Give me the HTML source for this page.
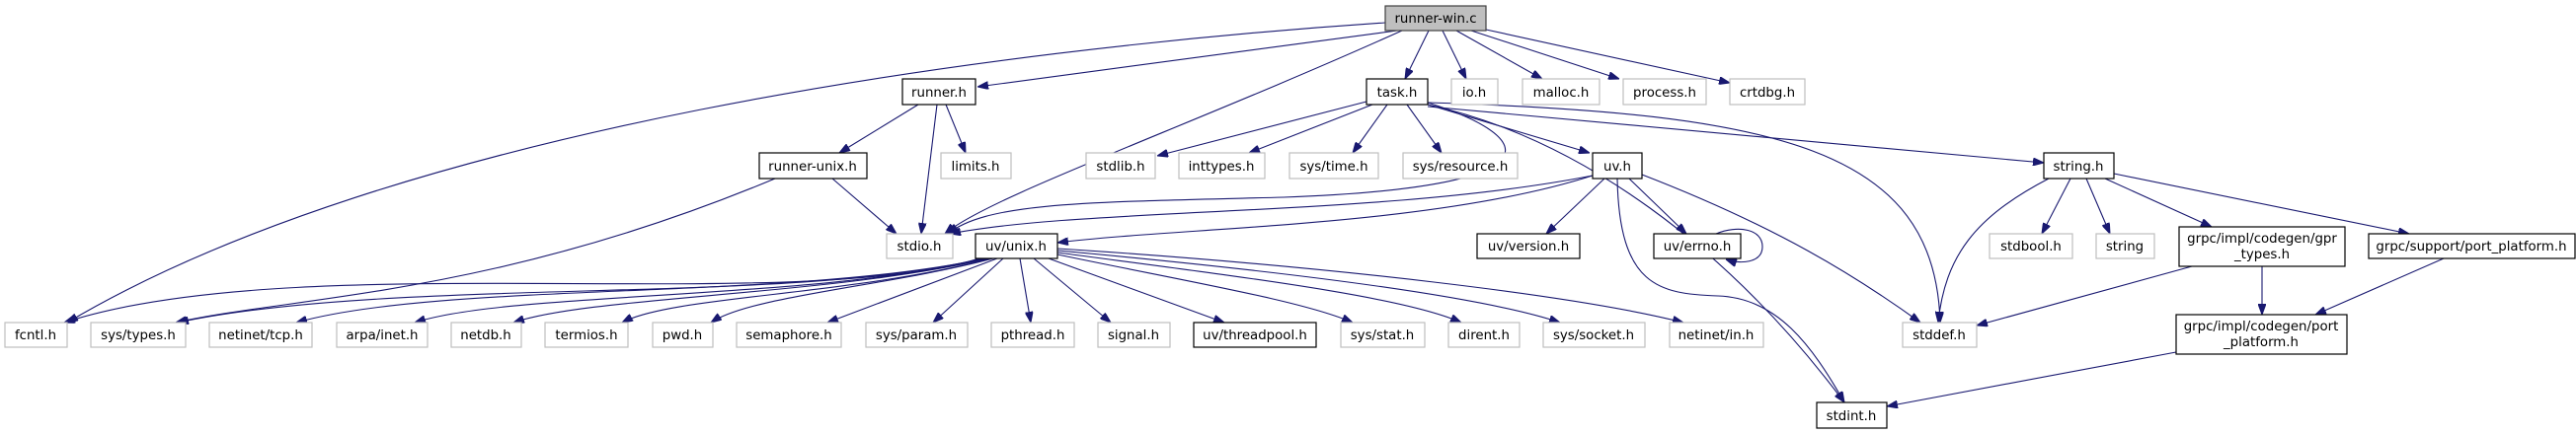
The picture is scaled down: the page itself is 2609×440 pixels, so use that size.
<!DOCTYPE html>
<html><head><meta charset="utf-8"><style>
html,body{margin:0;padding:0;background:#fff;width:2609px;height:440px;overflow:hidden}
svg{display:block}
text{font-family:"DejaVu Sans","Liberation Sans",sans-serif;font-size:13.33px;fill:#000}
.e{fill:none;stroke:#191970;stroke-width:1.1}
.b{fill:#fff;stroke:#000;stroke-width:1.2}
.g{fill:#fff;stroke:#bfbfbf;stroke-width:1.2}
</style></head><body>
<svg width="2609" height="440" viewBox="0 0 2609 440" xmlns="http://www.w3.org/2000/svg">
<defs><marker id="a" markerWidth="11" markerHeight="8" refX="11" refY="4" orient="auto" markerUnits="userSpaceOnUse"><path d="M0,0 L11,4 L0,8 z" fill="#191970" stroke="#191970"/></marker></defs>
<g class="e" marker-end="url(#a)">
<path d="M1403,23 C1000,50 400,130 68,327"/>
<path d="M1415,31 L990,88"/>
<path d="M1420,31 C1200,130 1000,200 957,237"/>
<path d="M1447,31 L1423,80"/>
<path d="M1461,31 L1485,80"/>
<path d="M1475,31 L1562,80"/>
<path d="M1490,31 L1640,80"/>
<path d="M1505,30 L1752,84"/>
<path d="M930,106 L850,155"/>
<path d="M949,106 L933,237"/>
<path d="M958,106 L978,155"/>
<path d="M785,181 C500,300 300,300 178,327"/>
<path d="M843,181 L908,237"/>
<path d="M1384,103 L1172,158"/>
<path d="M1390,106 L1265,155"/>
<path d="M1405,106 L1370,155"/>
<path d="M1425,106 L1460,155"/>
<path d="M1446,106 L1610,155"/>
<path d="M1446,104 C1560,140 1580,190 1300,200 C1100,205 1000,205 960,237"/>
<path d="M1446,106 C1600,140 1750,250 1868,408"/>
<path d="M1446,104 C1800,115 1960,150 1965,327"/>
<path d="M1446,108 L2070,165"/>
<path d="M1613,178 C1400,220 1100,210 962,237"/>
<path d="M1613,178 C1450,230 1200,230 1071,246"/>
<path d="M1625,181 L1566,237"/>
<path d="M1650,181 L1708,237"/>
<path d="M1638,181 C1640,290 1680,298 1740,300 C1800,302 1835,350 1868,408"/>
<path d="M1663,177 C1800,230 1880,280 1945,327"/>
<path d="M1738,237 C1760,228 1785,232 1785,250 C1785,267 1762,268 1748,263"/>
<path d="M992,262 C800,320 300,250 65,327"/>
<path d="M995,262 C800,310 400,280 180,327"/>
<path d="M998,262 C800,305 450,285 300,327"/>
<path d="M1000,262 C820,305 520,295 420,327"/>
<path d="M1002,262 C840,300 600,300 520,327"/>
<path d="M1004,262 C860,300 680,300 630,327"/>
<path d="M1006,262 C900,290 760,300 720,327"/>
<path d="M1010,262 L838,327"/>
<path d="M1016,262 L945,327"/>
<path d="M1033,262 L1044,327"/>
<path d="M1047,262 L1125,327"/>
<path d="M1062,262 L1240,327"/>
<path d="M1071,258 C1200,285 1320,305 1370,327"/>
<path d="M1071,256 C1250,280 1420,300 1480,327"/>
<path d="M1071,254 C1300,275 1500,300 1580,327"/>
<path d="M1071,252 C1350,270 1600,300 1705,327"/>
<path d="M2075,181 C2000,220 1970,260 1963,327"/>
<path d="M2097,181 L2068,237"/>
<path d="M2113,181 L2137,237"/>
<path d="M2132,181 L2240,230"/>
<path d="M2141,176 L2440,237"/>
<path d="M2220,270 L2002,330"/>
<path d="M2291,270 L2291,319"/>
<path d="M2475,262 L2345,319"/>
<path d="M2204,357 L1911,412"/>
</g>
<g text-anchor="middle">
<rect x="1403" y="6" width="102" height="25" fill="#bfbfbf" stroke="#404040" stroke-width="1.2"/><text x="1454" y="23">runner-win.c</text>
<rect class="b" x="914" y="80" width="74" height="26"/><text x="951" y="98">runner.h</text>
<rect class="b" x="1384" y="80" width="62" height="26"/><text x="1415" y="98">task.h</text>
<rect class="g" x="1470" y="80" width="47" height="26"/><text x="1493" y="98">io.h</text>
<rect class="g" x="1542" y="80" width="78" height="26"/><text x="1581" y="98">malloc.h</text>
<rect class="g" x="1644" y="80" width="84" height="26"/><text x="1686" y="98">process.h</text>
<rect class="g" x="1752" y="80" width="76" height="26"/><text x="1790" y="98">crtdbg.h</text>
<rect class="b" x="769" y="155" width="109" height="26"/><text x="823" y="173">runner-unix.h</text>
<rect class="g" x="953" y="155" width="71" height="26"/><text x="988" y="173">limits.h</text>
<rect class="g" x="1100" y="155" width="70" height="26"/><text x="1135" y="173">stdlib.h</text>
<rect class="g" x="1194" y="155" width="87" height="26"/><text x="1237" y="173">inttypes.h</text>
<rect class="g" x="1306" y="155" width="90" height="26"/><text x="1351" y="173">sys/time.h</text>
<rect class="g" x="1421" y="155" width="116" height="26"/><text x="1479" y="173">sys/resource.h</text>
<rect class="b" x="1613" y="155" width="50" height="26"/><text x="1638" y="173">uv.h</text>
<rect class="b" x="2070" y="155" width="71" height="26"/><text x="2105" y="173">string.h</text>
<rect class="g" x="898" y="237" width="67" height="25"/><text x="931" y="254">stdio.h</text>
<rect class="b" x="988" y="237" width="83" height="25"/><text x="1029" y="254">uv/unix.h</text>
<rect class="b" x="1496" y="237" width="104" height="25"/><text x="1548" y="254">uv/version.h</text>
<rect class="b" x="1675" y="237" width="88" height="25"/><text x="1719" y="254">uv/errno.h</text>
<rect class="g" x="2015" y="237" width="84" height="25"/><text x="2057" y="254">stdbool.h</text>
<rect class="g" x="2123" y="237" width="59" height="25"/><text x="2152" y="254">string</text>
<rect class="b" x="2207" y="230" width="168" height="40"/><text x="2291" y="246">grpc/impl/codegen/gpr</text><text x="2291" y="262">_types.h</text>
<rect class="b" x="2399" y="237" width="209" height="25"/><text x="2503" y="254">grpc/support/port_platform.h</text>
<rect class="g" x="5" y="327" width="63" height="25"/><text x="36" y="344">fcntl.h</text>
<rect class="g" x="92" y="327" width="96" height="25"/><text x="140" y="344">sys/types.h</text>
<rect class="g" x="212" y="327" width="104" height="25"/><text x="264" y="344">netinet/tcp.h</text>
<rect class="g" x="341" y="327" width="92" height="25"/><text x="387" y="344">arpa/inet.h</text>
<rect class="g" x="457" y="327" width="71" height="25"/><text x="492" y="344">netdb.h</text>
<rect class="g" x="552" y="327" width="84" height="25"/><text x="594" y="344">termios.h</text>
<rect class="g" x="661" y="327" width="61" height="25"/><text x="691" y="344">pwd.h</text>
<rect class="g" x="746" y="327" width="106" height="25"/><text x="799" y="344">semaphore.h</text>
<rect class="g" x="877" y="327" width="103" height="25"/><text x="928" y="344">sys/param.h</text>
<rect class="g" x="1004" y="327" width="84" height="25"/><text x="1046" y="344">pthread.h</text>
<rect class="g" x="1112" y="327" width="73" height="25"/><text x="1148" y="344">signal.h</text>
<rect class="b" x="1209" y="327" width="124" height="25"/><text x="1271" y="344">uv/threadpool.h</text>
<rect class="g" x="1358" y="327" width="85" height="25"/><text x="1400" y="344">sys/stat.h</text>
<rect class="g" x="1467" y="327" width="72" height="25"/><text x="1503" y="344">dirent.h</text>
<rect class="g" x="1563" y="327" width="103" height="25"/><text x="1614" y="344">sys/socket.h</text>
<rect class="g" x="1691" y="327" width="95" height="25"/><text x="1738" y="344">netinet/in.h</text>
<rect class="g" x="1927" y="327" width="75" height="25"/><text x="1964" y="344">stddef.h</text>
<rect class="b" x="2204" y="319" width="173" height="40"/><text x="2290" y="335">grpc/impl/codegen/port</text><text x="2290" y="351">_platform.h</text>
<rect class="b" x="1840" y="408" width="71" height="26"/><text x="1875" y="426">stdint.h</text>
</g>
</svg>
</body></html>
